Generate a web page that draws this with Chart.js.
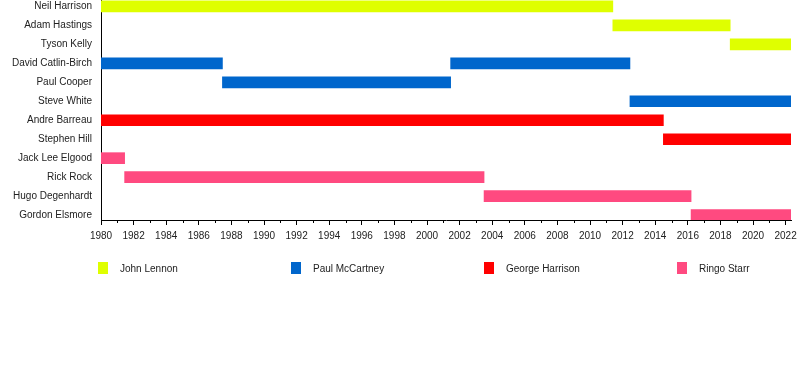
<!DOCTYPE html>
<html>
<head>
<meta charset="utf-8">
<script src="https://cdn.jsdelivr.net/npm/chart.js@4"></script>
<style>
  html, body { margin: 0; padding: 0; background: #fff; }
  #wrap { position: relative; width: 800px; height: 370px; }
  #legend { position: absolute; left: 0; top: 0; width: 800px; height: 370px; pointer-events: none; }
  .item { position: absolute; top: 262px; font: 10px "Liberation Sans", Arial, sans-serif; color: #222; }
  .item span.box { position: absolute; left: 0; top: 0; width: 10px; height: 12px; }
  .item span.txt { position: absolute; left: 22px; top: 1px; white-space: nowrap; line-height: 12px; }
</style>
</head>
<body>
<div id="wrap">
  <canvas id="chart" width="800" height="370"></canvas>
  <div id="legend"></div>
</div>
<script>
const members = [
  "Neil Harrison", "Adam Hastings", "Tyson Kelly", "David Catlin-Birch",
  "Paul Cooper", "Steve White", "Andre Barreau", "Stephen Hill",
  "Jack Lee Elgood", "Rick Rock", "Hugo Degenhardt", "Gordon Elsmore"
];

// [member, from, to]
const johnBars = [
  ["Neil Harrison", 1980, 2011.4],
  ["Adam Hastings", 2011.4, 2018.6],
  ["Tyson Kelly", 2018.6, 2022.33],
];
const paulBars = [
  ["David Catlin-Birch", 1980, 1987.45],
  ["Paul Cooper", 1987.45, 2001.45],
  ["David Catlin-Birch", 2001.45, 2012.45],
  ["Steve White", 2012.45, 2022.33],
];
const georgeBars = [
  ["Andre Barreau", 1980, 2014.5],
  ["Stephen Hill", 2014.5, 2022.33],
];
const ringoBars = [
  ["Jack Lee Elgood", 1980, 1981.45],
  ["Rick Rock", 1981.45, 2003.5],
  ["Hugo Degenhardt", 2003.5, 2016.2],
  ["Gordon Elsmore", 2016.2, 2022.33],
];

const roles = ["John Lennon", "Paul McCartney", "George Harrison", "Ringo Starr"];
const roleColors = ["#dfff00", "#0066cc", "#ff0000", "#ff4a80"];
const startYear = 1980;
const endYear = 2022.33;

const toPoints = bars => bars.map(b => ({ x: [b[1], b[2]], y: members.indexOf(b[0]) }));

const datasets = [johnBars, paulBars, georgeBars, ringoBars].map((bars, i) => ({
  label: roles[i],
  data: toPoints(bars),
  backgroundColor: roleColors[i],
  borderWidth: 0,
  barThickness: 11,
  grouped: false,
}));

// odd-year short ticks
const minorTicks = {
  id: "minorTicks",
  afterDraw(chart) {
    const x = chart.scales.x;
    const ctx = chart.ctx;
    ctx.save();
    ctx.strokeStyle = "#000";
    ctx.lineWidth = 1;
    ctx.beginPath();
    for (let yr = startYear + 1; yr < endYear; yr += 2) {
      const px = Math.round(x.getPixelForValue(yr)) + 0.5;
      ctx.moveTo(px, x.top);
      ctx.lineTo(px, x.top + 3);
    }
    ctx.stroke();
    ctx.restore();
  },
};

new Chart(document.getElementById("chart"), {
  type: "bar",
  data: { datasets },
  plugins: [minorTicks],
  options: {
    responsive: false,
    animation: false,
    indexAxis: "y",
    layout: { padding: { top: 0, right: 9, bottom: 0, left: 0 } },
    plugins: {
      legend: { display: false },
      tooltip: { enabled: false },
    },
    scales: {
      y: {
        type: "linear",
        reverse: true,
        offset: false,
        min: -0.34,
        max: 11.26,
        grid: { display: false, drawTicks: false, offset: false },
        border: { display: true, color: "#000", width: 1 },
        ticks: {
          stepSize: 1,
          includeBounds: false,
          autoSkip: false,
          padding: 9,
          color: "#222",
          font: { family: "'Liberation Sans', Arial, sans-serif", size: 10 },
          callback: v => members[v] ?? "",
        },
        afterFit(s) { s.width = 101; s.paddingTop = 0; s.paddingBottom = 0; },
      },
      x: {
        type: "linear",
        min: startYear,
        max: endYear,
        grid: { display: true, drawOnChartArea: false, tickLength: 5, color: "#000" },
        border: { display: true, color: "#000", width: 1 },
        ticks: {
          stepSize: 2,
          includeBounds: false,
          autoSkip: false,
          maxRotation: 0,
          padding: 5,
          color: "#222",
          font: { family: "'Liberation Sans', Arial, sans-serif", size: 10 },
          callback: v => String(v),
        },
        afterFit(s) { s.height = 150; s.paddingLeft = 0; s.paddingRight = 0; },
      },
    },
  },
});

// legend, same spacing as the original
const legend = document.getElementById("legend");
const legendX = [98, 291, 484, 677];
roles.forEach((r, i) => {
  const it = document.createElement("div");
  it.className = "item";
  it.style.left = legendX[i] + "px";
  it.innerHTML = '<span class="box" style="background:' + roleColors[i] + '"></span><span class="txt">' + r + '</span>';
  legend.appendChild(it);
});
</script>
</body>
</html>
